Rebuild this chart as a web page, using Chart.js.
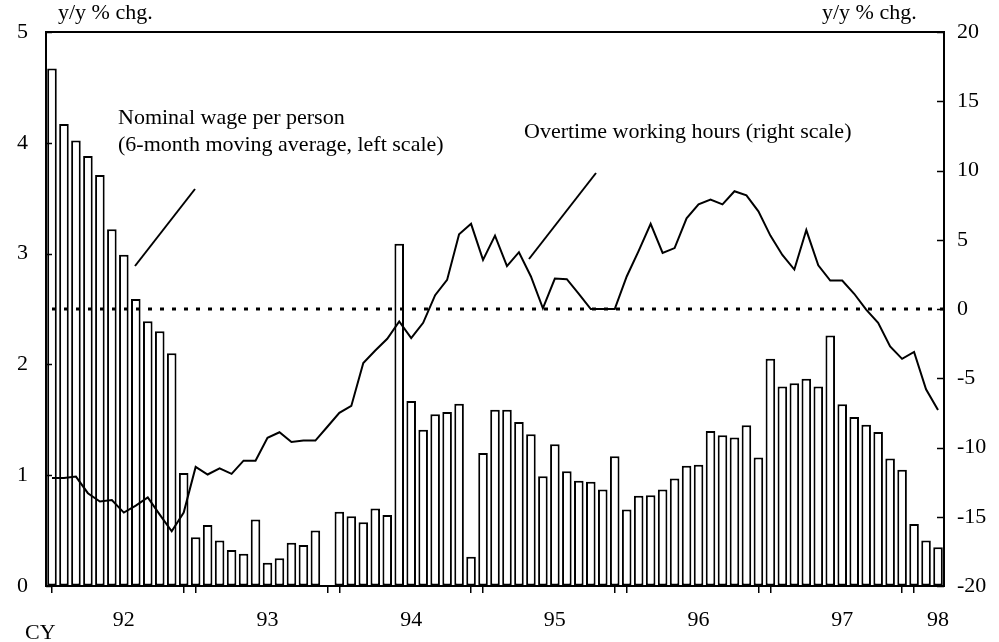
<!DOCTYPE html>
<html>
<head>
<meta charset="utf-8">
<script src="https://cdn.jsdelivr.net/npm/chart.js@4.4.1/dist/chart.umd.min.js"></script>
<style>
html,body{margin:0;padding:0;background:#fff;}
#wrap{width:999px;height:642px;position:relative;}
</style>
</head>
<body>
<div id="wrap"><canvas id="c"></canvas></div>
<script>
// ---- data ----
const categories = [
 '1992-01','1992-02','1992-03','1992-04','1992-05','1992-06','1992-07','1992-08','1992-09','1992-10','1992-11','1992-12',
 '1993-01','1993-02','1993-03','1993-04','1993-05','1993-06','1993-07','1993-08','1993-09','1993-10','1993-11','1993-12',
 '1994-01','1994-02','1994-03','1994-04','1994-05','1994-06','1994-07','1994-08','1994-09','1994-10','1994-11','1994-12',
 '1995-01','1995-02','1995-03','1995-04','1995-05','1995-06','1995-07','1995-08','1995-09','1995-10','1995-11','1995-12',
 '1996-01','1996-02','1996-03','1996-04','1996-05','1996-06','1996-07','1996-08','1996-09','1996-10','1996-11','1996-12',
 '1997-01','1997-02','1997-03','1997-04','1997-05','1997-06','1997-07','1997-08','1997-09','1997-10','1997-11','1997-12',
 '1998-01','1998-02','1998-03'
];
// Nominal wage per person (6-month moving average, left scale), y/y % chg.
const wageGrowth = [
 4.67,4.17,4.02,3.88,3.71,3.22,2.99,2.59,2.39,2.30,2.10,1.02,
 0.44,0.55,0.41,0.325,0.29,0.60,0.21,0.25,0.39,0.37,0.50,null,
 0.67,0.63,0.575,0.70,0.64,3.09,1.67,1.41,1.55,1.57,1.645,0.265,
 1.20,1.59,1.59,1.48,1.37,0.99,1.28,1.035,0.95,0.94,0.87,1.17,
 0.69,0.815,0.82,0.87,0.97,1.085,1.095,1.40,1.36,1.34,1.45,1.16,
 2.05,1.80,1.83,1.87,1.80,2.26,1.64,1.525,1.455,1.39,1.15,1.05,
 0.56,0.41,0.35
];
// Overtime working hours (right scale), y/y % chg.
const overtimeGrowth = [
 -12.2,-12.2,-12.1,-13.3,-13.9,-13.8,-14.7,-14.2,-13.6,-14.85,-16.05,-14.7,
 -11.4,-11.95,-11.5,-11.9,-10.95,-10.95,-9.3,-8.9,-9.6,-9.5,-9.5,-8.5,
 -7.5,-7.0,-3.9,-3.0,-2.15,-0.9,-2.1,-1.0,1.0,2.1,5.4,6.15,
 3.55,5.3,3.1,4.1,2.35,0.05,2.2,2.15,1.1,0,0,0,
 2.35,4.2,6.15,4.05,4.4,6.55,7.55,7.9,7.55,8.5,8.2,7.05,
 5.3,3.9,2.85,5.7,3.15,2.05,2.05,1.1,-0.05,-1.0,-2.7,-3.6,
 -3.1,-5.8,-7.3
];
const leftTicks = [0,1,2,3,4,5];
const rightTicks = [-20,-15,-10,-5,0,5,10,15,20];
const yearTickIndex = [6,18,30,42,54,66,74];
const yearTickText = ['92','93','94','95','96','97','98'];
const referenceLevel = 0; // dotted line on right scale

// ---- drawing ----
const FONT = '"Liberation Serif","Times New Roman",serif';
const isBoundary = (i) => {
  const m = parseInt(categories[i].slice(5), 10);
  return m === 1 || m === 12;
};

const decorPlugin = {
  id: 'decor',
  afterDatasetsDraw(chart) {
    const {ctx, chartArea} = chart;
    const yR = chart.scales.yR;
    const y0 = yR.getPixelForValue(referenceLevel);
    ctx.save();
    ctx.strokeStyle = '#000';
    ctx.lineWidth = 3;
    ctx.setLineDash([4, 8]);
    ctx.lineDashOffset = -6;
    ctx.beginPath();
    ctx.moveTo(chartArea.left, y0);
    ctx.lineTo(chartArea.right, y0);
    ctx.stroke();
    ctx.restore();
  },
  afterDraw(chart) {
    const {ctx, chartArea} = chart;
    const yL = chart.scales.yL, yR = chart.scales.yR;
    ctx.save();
    ctx.strokeStyle = '#000';
    ctx.lineWidth = 2;
    // top frame line
    ctx.beginPath();
    ctx.moveTo(chartArea.left - 1, chartArea.top);
    ctx.lineTo(chartArea.right + 1, chartArea.top);
    ctx.stroke();
    // inward tick marks
    ctx.lineWidth = 1.5;
    leftTicks.forEach(v => {
      const y = Math.round(yL.getPixelForValue(v)) + 0.5;
      ctx.beginPath(); ctx.moveTo(chartArea.left, y); ctx.lineTo(chartArea.left + 6, y); ctx.stroke();
    });
    rightTicks.forEach(v => {
      const y = Math.round(yR.getPixelForValue(v)) + 0.5;
      ctx.beginPath(); ctx.moveTo(chartArea.right - 7, y); ctx.lineTo(chartArea.right, y); ctx.stroke();
    });
    // pointer lines
    ctx.lineWidth = 2;
    ctx.beginPath(); ctx.moveTo(135, 266); ctx.lineTo(195, 189); ctx.stroke();
    ctx.beginPath(); ctx.moveTo(529, 259); ctx.lineTo(596, 173); ctx.stroke();
    // texts
    ctx.fillStyle = '#000';
    ctx.font = '22px ' + FONT;
    ctx.textBaseline = 'alphabetic';
    ctx.textAlign = 'left';
    ctx.fillText('y/y % chg.', 58, 19);
    ctx.fillText('y/y % chg.', 822, 19);
    ctx.fillText('Nominal wage per person', 118, 124);
    ctx.fillText('(6-month moving average, left scale)', 118, 151);
    ctx.fillText('Overtime working hours (right scale)', 524, 138);
    ctx.fillText('CY', 25, 639);
    ctx.restore();
  }
};

new Chart(document.getElementById('c'), {
  data: {
    labels: categories,
    datasets: [
      {
        type: 'line',
        label: 'Overtime working hours (right scale)',
        data: overtimeGrowth,
        yAxisID: 'yR',
        borderColor: '#000',
        borderWidth: 2,
        pointRadius: 0,
        tension: 0,
        fill: false,
        order: 0
      },
      {
        type: 'bar',
        label: 'Nominal wage per person',
        data: wageGrowth,
        yAxisID: 'yL',
        backgroundColor: '#fff',
        borderColor: '#000',
        borderWidth: 2,
        borderSkipped: false,
        barPercentage: 0.8,
        categoryPercentage: 1.0,
        order: 1
      }
    ]
  },
  options: {
    responsive: true,
    maintainAspectRatio: false,
    animation: false,
    layout: {padding: {top: 32, left: 0, right: 0, bottom: 0}},
    plugins: {legend: {display: false}, tooltip: {enabled: false}},
    scales: {
      x: {
        type: 'category',
        offset: true,
        afterFit(s) { s.height = 56; },
        grid: {
          offset: false,
          drawOnChartArea: false,
          drawTicks: true,
          tickLength: 7,
          lineWidth: 1.5,
          color: (c) => isBoundary(c.index) ? '#000' : 'rgba(0,0,0,0)'
        },
        border: {display: true, color: '#000', width: 2},
        ticks: {
          autoSkip: false,
          maxRotation: 0,
          minRotation: 0,
          padding: 14,
          color: '#000',
          font: {family: FONT, size: 22},
          callback: (v, i) => {
            const k = yearTickIndex.indexOf(i);
            return k >= 0 ? yearTickText[k] : '';
          }
        }
      },
      yL: {
        type: 'linear',
        position: 'left',
        min: 0, max: 5,
        afterFit(s) { s.width = 46; },
        afterBuildTicks(s) { s.ticks = leftTicks.map(v => ({value: v})); },
        grid: {display: true, drawOnChartArea: false, drawTicks: false},
        border: {display: true, color: '#000', width: 2},
        ticks: {padding: 18, color: '#000', font: {family: FONT, size: 22}}
      },
      yR: {
        type: 'linear',
        position: 'right',
        min: -20, max: 20,
        afterFit(s) { s.width = 55; },
        afterBuildTicks(s) { s.ticks = rightTicks.map(v => ({value: v})); },
        grid: {display: true, drawOnChartArea: false, drawTicks: false},
        border: {display: true, color: '#000', width: 2},
        ticks: {padding: 13, color: '#000', font: {family: FONT, size: 22}}
      }
    }
  },
  plugins: [decorPlugin]
});
</script>
</body>
</html>
